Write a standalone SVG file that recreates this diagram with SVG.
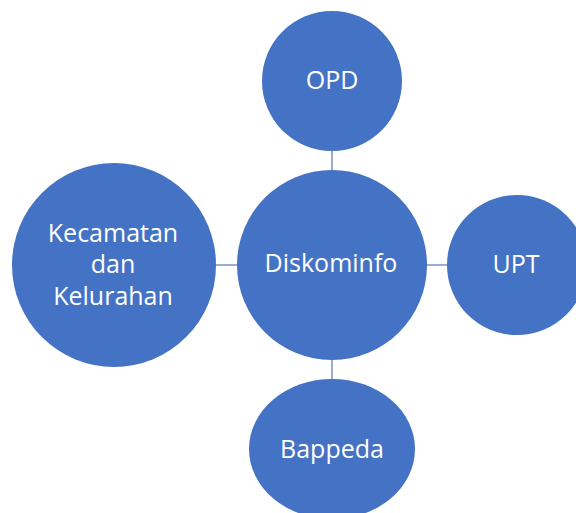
<svg xmlns="http://www.w3.org/2000/svg" width="576" height="513" viewBox="0 0 576 513">
  <style>
    .node { fill: #4472C4; }
    .label { fill: #FFFFFF; font-family: "Open Sans", "Noto Sans", sans-serif; font-size: 25px; text-anchor: middle; }
    .link { stroke: #7F96C6; stroke-width: 1.6; fill: none; }
  </style>
  <rect width="576" height="513" fill="#FFFFFF"/>
  <g id="connectors">
    <line class="link" x1="332" y1="150" x2="332" y2="172"/>
    <line class="link" x1="332" y1="358" x2="332" y2="381"/>
    <line class="link" x1="213" y1="265" x2="238" y2="265"/>
    <line class="link" x1="426" y1="265" x2="449" y2="265"/>
  </g>
  <g id="node-opd">
    <circle class="node" cx="332" cy="81" r="70"/>
    <text class="label" x="332" y="89">OPD</text>
  </g>
  <g id="node-diskominfo">
    <circle class="node" cx="332" cy="265" r="95"/>
    <text class="label" x="331" y="272">Diskominfo</text>
  </g>
  <g id="node-upt">
    <circle class="node" cx="517" cy="265" r="70"/>
    <text class="label" x="516" y="273">UPT</text>
  </g>
  <g id="node-bappeda">
    <ellipse class="node" cx="332" cy="449" rx="83" ry="70"/>
    <text class="label" x="332" y="458">Bappeda</text>
  </g>
  <g id="node-kecamatan">
    <circle class="node" cx="114" cy="265" r="102"/>
    <text class="label" x="113" y="242">Kecamatan</text>
    <text class="label" x="113" y="273">dan</text>
    <text class="label" x="113" y="305">Kelurahan</text>
  </g>
</svg>
